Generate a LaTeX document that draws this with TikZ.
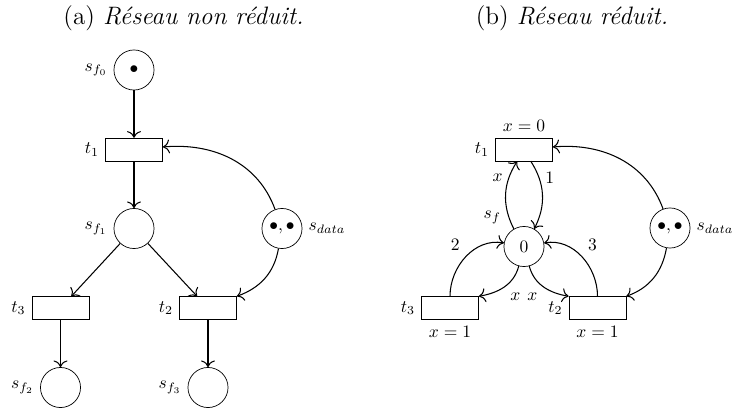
\documentclass[tikz,border=0pt]{standalone}
\usepackage{fontspec}
\usepackage{amsmath,amssymb}
\usetikzlibrary{arrows.meta,positioning}

\tikzset{
  pnplace/.style={circle, draw, minimum size=22.9pt, inner sep=0pt},
  pntrans/.style={rectangle, draw, minimum width=32.6pt, minimum height=13pt, inner sep=0pt},
  flow/.style={->, semithick},
}

\begin{document}
\begin{tikzpicture}[x=0.5714pt, y=-0.5714pt, >={To[scale=1.3]}]
  \useasboundingbox (0,0) rectangle (739,409);
  % sous-figure captions
  \node (capa) at (183.5,18) {\Large (a) \textit{Réseau non réduit.}};
  \node (capb) at (572,18) {\Large (b) \textit{Réseau réduit.}};

  % (a) reseau non reduit
  \node[pnplace, label=left:$s_{f_0}$] (sf0) at (134,70) {$\bullet$};
  \node[pntrans, label=left:$t_1$] (t1a) at (134,149.5) {};
  \node[pnplace, label=left:$s_{f_1}$] (sf1) at (134,228.5) {};
  \node[pnplace, label=right:$s_{data}$] (sda) at (282,228.5) {$\bullet,\bullet$};
  \node[pntrans, label=left:$t_3$] (t3a) at (60.5,308) {};
  \node[pntrans, label=left:$t_2$] (t2a) at (208,308) {};
  \node[pnplace, label=left:$s_{f_2}$] (sf2) at (60.5,387.5) {};
  \node[pnplace, label=left:$s_{f_3}$] (sf3) at (208,387.5) {};

  \draw[flow] (sf0) -- (t1a);
  \draw[flow] (t1a) -- (sf1);
  \draw[flow] (sf1) -- (t3a);
  \draw[flow] (sf1) -- (t2a);
  \draw[flow] (t3a) -- (sf2);
  \draw[flow] (t2a) -- (sf3);
  \draw[flow] (sda) to[out=110, in=5] (t1a);
  \draw[flow] (sda) to[out=-100, in=20] (t2a.north east);

  % (b) reseau reduit
  \node[pntrans, label=left:$t_1$, label={above:$x=0$}] (t1b) at (524,149.5) {};
  \node[pnplace, label={[label distance=2pt]135:$s_f$}] (sf) at (524,246.5) {$0$};
  \node[pnplace, label=right:$s_{data}$] (sdb) at (670,228) {$\bullet,\bullet$};
  \node[pntrans, label=left:$t_3$, label={below:$x=1$}] (t3b) at (450,308) {};
  \node[pntrans, label=left:$t_2$, label={below:$x=1$}] (t2b) at (597.5,308) {};

  \draw[flow] (sf) to[bend left=30] node[pos=0.75, left] {$x$} (t1b);
  \draw[flow] (t1b) to[bend left=30] node[pos=0.25, right] {$1$} (sf);
  \draw[flow] (t3b) to[out=90, in=170] node[above left] {$2$} (sf);
  \draw[flow] (sf) to[out=-105, in=10] node[below right] {$x$} (t3b.north east);
  \draw[flow] (sf) to[out=-75, in=170] node[below left] {$x$} (t2b.north west);
  \draw[flow] (t2b) to[out=90, in=10] node[above right] {$3$} (sf);
  \draw[flow] (sdb) to[out=110, in=5] (t1b);
  \draw[flow] (sdb) to[out=-100, in=20] (t2b.north east);
\end{tikzpicture}
\end{document}
